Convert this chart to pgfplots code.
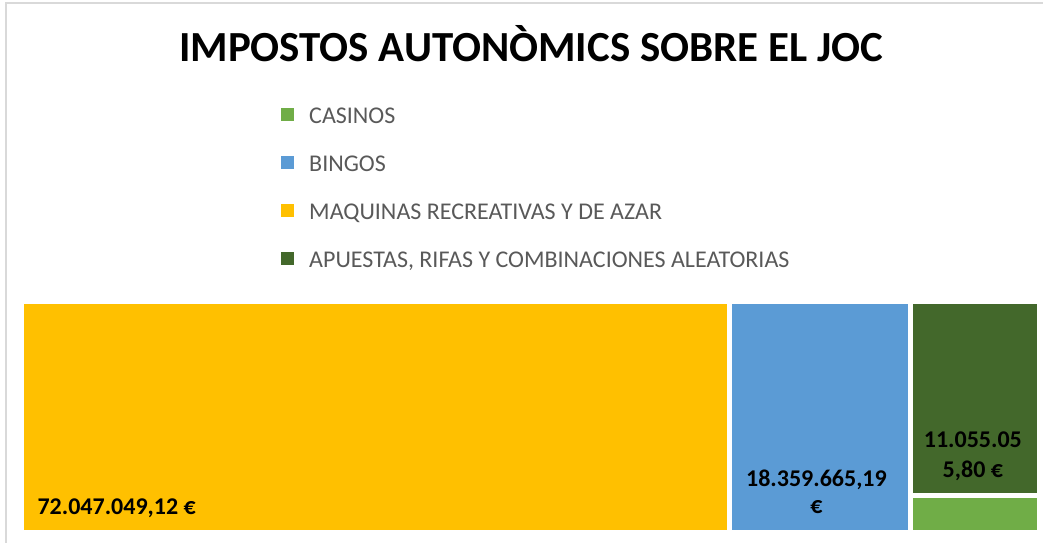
\documentclass[border=0pt]{standalone}
\usepackage{pgfplots}
\pgfplotsset{compat=1.18}
\usepackage{fontspec}
\setmainfont{Carlito}
\definecolor{cCas}{HTML}{70AD47}
\definecolor{cBin}{HTML}{5B9BD5}
\definecolor{cMaq}{HTML}{FFC000}
\definecolor{cApu}{HTML}{43682B}
\definecolor{cTxt}{HTML}{595959}
\definecolor{cBrd}{HTML}{D9D9D9}
% values (millions of euros)
\def\vMaq{72.04704912}
\def\vBin{18.35966519}
\def\vApu{11.05505580}
\def\vCas{2.10}
\begin{document}
\begin{tikzpicture}[x=1pt,y=1pt]
\useasboundingbox (0,0) rectangle (1043,542);
\draw[cBrd,line width=1.5pt] (6,-2) -- (6,539) -- (1050,539);
\node[anchor=base,font=\fontsize{42.9}{50}\selectfont\bfseries] at (531,480) {IMPOSTOS AUTONÒMICS SOBRE EL JOC};
\pgfmathsetmacro{\xA}{\vMaq}
\pgfmathsetmacro{\xB}{\vMaq+\vBin}
\pgfmathsetmacro{\xT}{\vMaq+\vBin+\vApu+\vCas}
\pgfmathsetmacro{\yC}{\vCas/(\vCas+\vApu)}
\begin{axis}[
  at={(21.5pt,9.5pt)}, anchor=south west,
  scale only axis, width=1018pt, height=231pt,
  xmin=0, xmax=\xT, ymin=0, ymax=1,
  hide axis, clip=false,
  legend style={at={(0.252,1.846)}, anchor=north west, draw=none, fill=none,
    font=\fontsize{24}{28}\selectfont, text=cTxt,
    row sep=32.5pt, cells={anchor=west},
    nodes={inner sep=0pt, text height=14pt, text depth=0pt}},
  legend cell align=left,
]
\addplot[fill=cCas, draw=white, line width=5pt,
  legend image code/.code={\fill[cCas,draw=none] (0pt,-4.5pt) rectangle (13pt,8.5pt); \path[draw=none,fill=none] (0pt,0pt) rectangle (28pt,1pt);}]
  coordinates {(\xB,0) (\xT,0) (\xT,\yC) (\xB,\yC)} -- cycle;
\addlegendentry{CASINOS}
\addplot[fill=cBin, draw=white, line width=5pt,
  legend image code/.code={\fill[cBin,draw=none] (0pt,-4.5pt) rectangle (13pt,8.5pt); \path[draw=none,fill=none] (0pt,0pt) rectangle (28pt,1pt);}]
  coordinates {(\xA,0) (\xB,0) (\xB,1) (\xA,1)} -- cycle;
\addlegendentry{BINGOS}
\addplot[fill=cMaq, draw=white, line width=5pt,
  legend image code/.code={\fill[cMaq,draw=none] (0pt,-4.5pt) rectangle (13pt,8.5pt); \path[draw=none,fill=none] (0pt,0pt) rectangle (28pt,1pt);}]
  coordinates {(0,0) (\xA,0) (\xA,1) (0,1)} -- cycle;
\addlegendentry{MAQUINAS RECREATIVAS Y DE AZAR}
\addplot[fill=cApu, draw=white, line width=5pt,
  legend image code/.code={\fill[cApu,draw=none] (0pt,-4.5pt) rectangle (13pt,8.5pt); \path[draw=none,fill=none] (0pt,0pt) rectangle (28pt,1pt);}]
  coordinates {(\xB,\yC) (\xT,\yC) (\xT,1) (\xB,1)} -- cycle;
\addlegendentry{APUESTAS, RIFAS Y COMBINACIONES ALEATORIAS}
\begin{scope}[every node/.style={font=\fontsize{24}{28}\selectfont\bfseries}]
\node[anchor=base west] at (axis cs:1.27,0.0758) {72.047.049,12 €};
\node[anchor=base] at (axis cs:{(\xA+\xB)/2-0.356},0.197) {18.359.665,19};
\node[anchor=base] at (axis cs:{(\xA+\xB)/2-0.356},0.084) {€};
\node[anchor=base] at (axis cs:{(\xB+\xT)/2-0.2},0.366) {11.055.05};
\node[anchor=base] at (axis cs:{(\xB+\xT)/2-0.2},0.236) {5,80 €};
\end{scope}
\end{axis}
\end{tikzpicture}
\end{document}
